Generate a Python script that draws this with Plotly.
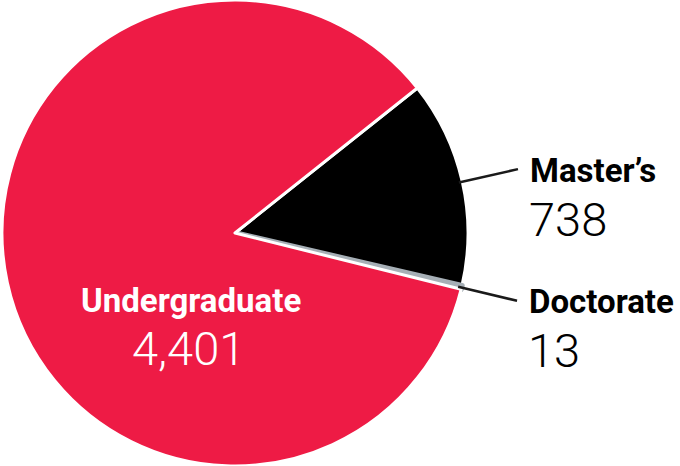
import math
import plotly.graph_objects as go

labels = ["Master’s", "Doctorate", "Undergraduate"]
values = [738, 13, 4401]
value_text = ["738", "13", "4,401"]
colors = ["#000000", "#A6AFB6", "#EE1B45"]

W, H = 680, 466
ROT = 51.5
dom_x = [2 / W, 468 / W]
cx, cy, R = (2 + 468) / 2, H / 2, 233

fig = go.Figure(go.Pie(
    labels=labels, values=values, sort=False, direction="clockwise",
    rotation=ROT,
    marker=dict(colors=colors,
                line=dict(color=["white", "#A6AFB6", "white"], width=[3, 5.5, 3])),
    textinfo="none", hoverinfo="label+value", showlegend=False,
    domain=dict(x=dom_x, y=[0, 1]),
))

total = sum(values)
angles = []
acc = ROT
for v in values:
    span = v / total * 360
    angles.append(acc + span / 2)
    acc += span

def pt(angle, rr):
    a = math.radians(angle)
    return cx + rr * math.sin(a), cy - rr * math.cos(a)

shapes = []
annotations = []
bold = dict(family="Roboto", size=33, color="black", weight="bold")
light = dict(family="Roboto", size=47, color="black", weight=300)
for i in (0, 1):
    x0, y0 = pt(angles[i], R * 0.985)
    x1, y1 = pt(angles[i], R * 1.245)
    shapes.append(dict(type="line", xref="paper", yref="paper",
                       x0=x0 / W, y0=1 - y0 / H, x1=x1 / W, y1=1 - y1 / H,
                       line=dict(color="#1a1a1a", width=2.5)))
    annotations.append(dict(text=labels[i], x=(x1 + 10) / W, y=1 - (y1 + 1) / H,
                            xref="paper", yref="paper", xanchor="left", yanchor="middle",
                            showarrow=False, font=bold))
    annotations.append(dict(text=value_text[i], x=(x1 + 9) / W, y=1 - (y1 + 50) / H,
                            xref="paper", yref="paper", xanchor="left", yanchor="middle",
                            showarrow=False, font=light))

annotations.append(dict(text=labels[2], x=191 / W, y=1 - 300 / H, xref="paper", yref="paper",
                        xanchor="center", yanchor="middle", showarrow=False,
                        font=dict(bold, color="white")))
annotations.append(dict(text=value_text[2], x=188 / W, y=1 - 348 / H, xref="paper", yref="paper",
                        xanchor="center", yanchor="middle", showarrow=False,
                        font=dict(light, color="white")))

fig.update_layout(width=W, height=H, margin=dict(l=0, r=0, t=0, b=0),
                  paper_bgcolor="white", plot_bgcolor="white",
                  shapes=shapes, annotations=annotations)
fig.write_html("out.html")
